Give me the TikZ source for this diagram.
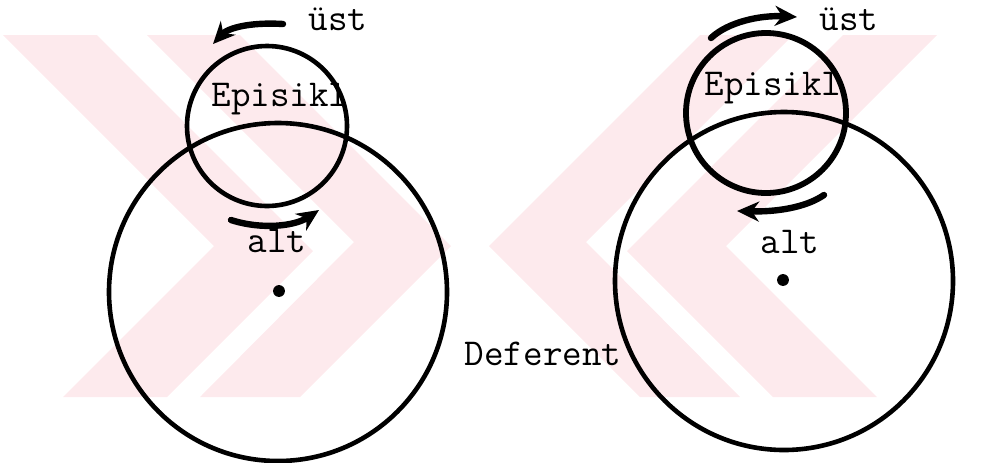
\documentclass[tikz,border=0pt]{standalone}
\usepackage{fontspec}
\usetikzlibrary{arrows.meta}
\definecolor{wmpink}{RGB}{253,234,237}

\tikzset{
    orbit/.style={draw,line width=2.3pt},
    thick orbit/.style={draw,line width=2.9pt},
    motion/.style={line width=3.2pt,line cap=round,-{Stealth[length=11pt,width=10pt]}},
    word/.style={font=\ttfamily\fontsize{19}{19}\selectfont,inner sep=0,anchor=base},
    centre dot/.style={circle,fill,inner sep=2.1pt},
    stripe/.style={fill=wmpink,draw=none}
    }

\begin{document}
\begin{tikzpicture}[x=0.5pt,y=-0.5pt]
    \useasboundingbox (0,0) rectangle (1007,462);
    % watermark
    \fill[stripe] (3,35) -- (97,35) -- (313,251) -- (167,397) -- (63,397) -- (214,246) -- cycle;
    \fill[stripe] (147,35) -- (240,35) -- (451,246) -- (300,397) -- (200,397) -- (354,242) -- cycle;
    \fill[stripe] (937,35) -- (843,35) -- (627,251) -- (773,397) -- (877,397) -- (726,246) -- cycle;
    \fill[stripe] (793,35) -- (700,35) -- (489,246) -- (640,397) -- (740,397) -- (586,242) -- cycle;

    % left: deferent and epicycle
    \coordinate (dl) at (278,292);
    \coordinate (el) at (267,126);
    \draw[orbit] (dl) circle[radius=169];
    \draw[orbit] (el) circle[radius=80];
    \node(cl)[centre dot] at (279,291) {};
    \node(epil)[word] at (280,106) {Episikl};
    \node(altl)[word] at (277,252) {alt};
    \node(ustl)[word] at (338,30) {üst};
    \coordinate (ul1) at (283,24);
    \coordinate (ul2) at (213,44);
    \draw[motion] (ul1) .. controls (250,22) and (228,28) .. (ul2);
    \coordinate (al1) at (231,220);
    \coordinate (al2) at (319,210);
    \draw[motion] (al1) .. controls (262,230) and (295,226) .. (al2);

    % right: deferent and epicycle
    \coordinate (dr) at (784,281);
    \coordinate (er) at (766,113);
    \draw[orbit] (dr) circle[radius=169];
    \draw[thick orbit] (er) circle[radius=80];
    \node(cr)[centre dot] at (783,280) {};
    \node(epir)[word] at (773,95) {Episikl};
    \node(altr)[word] at (790,253) {alt};
    \node(ustr)[word] at (849,30) {üst};
    \coordinate (ur1) at (711,38);
    \coordinate (ur2) at (797,17);
    \draw[motion] (ur1) .. controls (728,22) and (760,15) .. (ur2);
    \coordinate (ar1) at (824,195);
    \coordinate (ar2) at (737,211);
    \draw[motion] (ar1) .. controls (805,208) and (775,212) .. (ar2);

    \node(def)[word] at (543,365) {Deferent};
\end{tikzpicture}
\end{document}
